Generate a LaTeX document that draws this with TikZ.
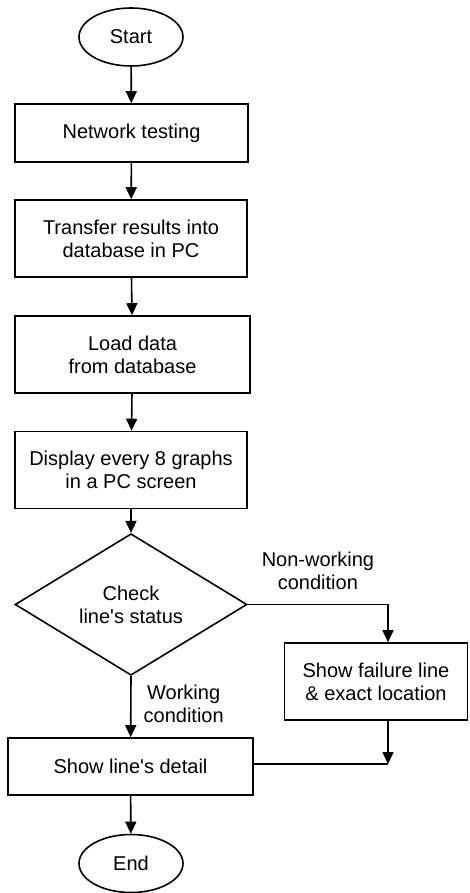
\documentclass[tikz,border=0pt]{standalone}
\usepackage{fontspec}
\setmainfont{Liberation Sans}
\usetikzlibrary{shapes.geometric,arrows.meta}

\begin{document}
\begin{tikzpicture}
  [x=1pt,y=-1pt,line width=1.6pt,
   every node/.style={font=\fontsize{20}{23}\selectfont,align=center,inner sep=0pt},
   term/.style={draw,ellipse,minimum width=104pt,minimum height=58pt},
   proc/.style={draw,rectangle,minimum height=77pt},
   decide/.style={draw,diamond,minimum width=232pt,minimum height=115pt},
   arr/.style={-{Triangle[length=12pt,width=11pt]}}] % all coordinates taken in pixels of the reference
    \useasboundingbox (0,0) rectangle (469,893);

    \node[term] (start) at (131,37)   {Start};
    \node[proc,minimum width=233pt,minimum height=58pt] (net) at (131.5,133) {Network testing};
    \node[proc,minimum width=232pt] (transfer) at (131,238.5) {Transfer results into\\database in PC};
    \node[proc,minimum width=235pt] (load) at (132.5,354.5) {Load data\\from database};
    \node[proc,minimum width=232pt] (display) at (131,470) {Display every 8 graphs\\in a PC screen};
    \node[decide] (check) at (131,604.5) {Check\\line\textquotesingle s status};
    \node[proc,minimum width=183pt] (fail) at (376,681.5) {Show failure line\\\& exact location};
    \node[proc,minimum width=245pt,minimum height=57pt] (detail) at (130.5,766.5) {Show line\textquotesingle s detail};
    \node[term] (stop) at (131,863.5) {End};
    \coordinate (join) at (388,764);

    \draw[arr] (start) -- (net);
    \draw[arr] (net) -- (transfer);
    \draw[arr] (transfer) -- (load);
    \draw[arr] (load) -- (display);
    \draw[arr] (display) -- (check);
    \draw[arr] (check.south) -- node[right=12pt,pos=0.45] {Working\\condition} (detail);
    \draw[arr] (check.east) -- node[above=14pt,pos=0.5] {Non-working\\condition} (check.east -| join) -- (join |- fail.north);
    \draw[arr] (join |- fail.south) -- (join);
    \draw (detail.east |- join) -- (join);
    \draw[arr] (detail) -- (stop);
\end{tikzpicture}
\end{document}
